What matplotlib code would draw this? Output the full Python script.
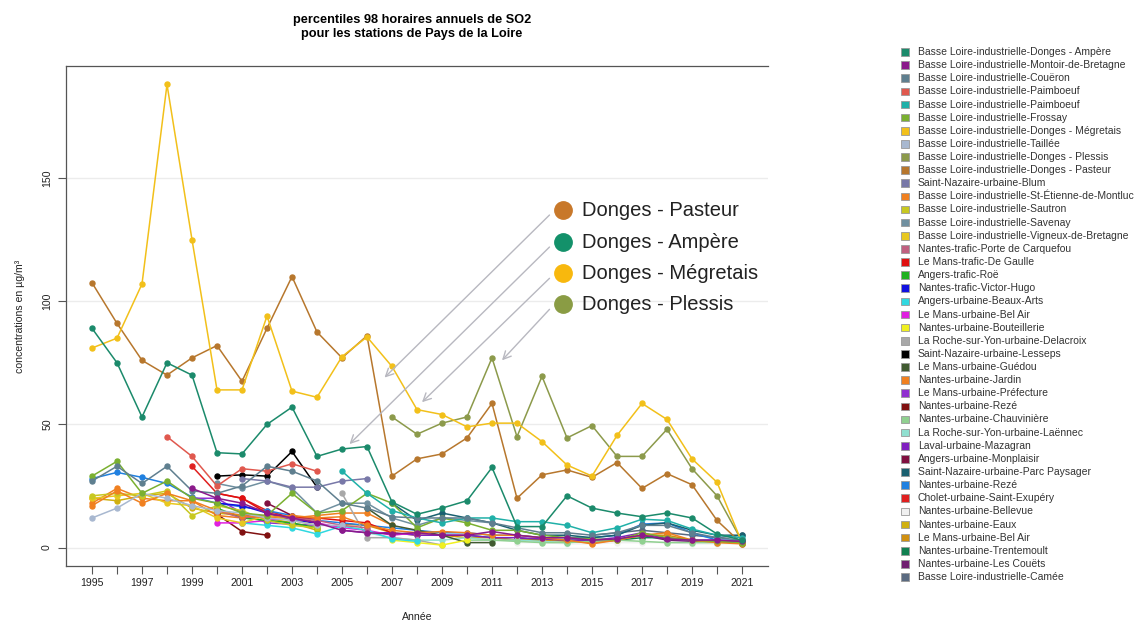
import numpy as np
import matplotlib.pyplot as plt
from matplotlib.patches import Rectangle

plt.rcParams['font.family'] = ['Liberation Sans', 'DejaVu Sans']

years = np.arange(1995, 2022)

# station names (legend order), line colours, first year and yearly values
stations = [
    "Basse Loire-industrielle-Donges - Ampère",
    "Basse Loire-industrielle-Montoir-de-Bretagne",
    "Basse Loire-industrielle-Couëron",
    "Basse Loire-industrielle-Paimboeuf",
    "Basse Loire-industrielle-Paimboeuf",
    "Basse Loire-industrielle-Frossay",
    "Basse Loire-industrielle-Donges - Mégretais",
    "Basse Loire-industrielle-Taillée",
    "Basse Loire-industrielle-Donges - Plessis",
    "Basse Loire-industrielle-Donges - Pasteur",
    "Saint-Nazaire-urbaine-Blum",
    "Basse Loire-industrielle-St-Étienne-de-Montluc",
    "Basse Loire-industrielle-Sautron",
    "Basse Loire-industrielle-Savenay",
    "Basse Loire-industrielle-Vigneux-de-Bretagne",
    "Nantes-trafic-Porte de Carquefou",
    "Le Mans-trafic-De Gaulle",
    "Angers-trafic-Roë",
    "Nantes-trafic-Victor-Hugo",
    "Angers-urbaine-Beaux-Arts",
    "Le Mans-urbaine-Bel Air",
    "Nantes-urbaine-Bouteillerie",
    "La Roche-sur-Yon-urbaine-Delacroix",
    "Saint-Nazaire-urbaine-Lesseps",
    "Le Mans-urbaine-Guédou",
    "Nantes-urbaine-Jardin",
    "Le Mans-urbaine-Préfecture",
    "Nantes-urbaine-Rezé",
    "Nantes-urbaine-Chauvinière",
    "La Roche-sur-Yon-urbaine-Laënnec",
    "Laval-urbaine-Mazagran",
    "Angers-urbaine-Monplaisir",
    "Saint-Nazaire-urbaine-Parc Paysager",
    "Nantes-urbaine-Rezé",
    "Cholet-urbaine-Saint-Exupéry",
    "Nantes-urbaine-Bellevue",
    "Nantes-urbaine-Eaux",
    "Le Mans-urbaine-Bel Air",
    "Nantes-urbaine-Trentemoult",
    "Nantes-urbaine-Les Couëts",
    "Basse Loire-industrielle-Camée",
]

colors = [
    "#1b8a6b", "#8b1a8b", "#5f7f8f", "#e0584e", "#20b0a8", "#7ab030",
    "#f2c01a", "#a8b8d0", "#8c9a4b", "#b7772d", "#7878a8", "#f08020",
    "#c8c820", "#7090a0", "#e8c820", "#c06080", "#e01010", "#20b020",
    "#1010e0", "#30d8e0", "#e020e0", "#f0f020", "#a8a8a8", "#000000",
    "#405a30", "#f08020", "#9030d0", "#801010", "#90d090", "#90e0d0",
    "#8020c0", "#801040", "#1a6070", "#2080e0", "#e02020", "#f0f0f0",
    "#d0b010", "#d09010", "#108050", "#702070", "#5a6a80",
]

start_year = [
    1995, 1999, 1995, 1998, 2005, 1995, 1995, 1995, 2007, 1995,
    2001, 1995, 1995, 2000, 1995, 2000, 2000, 2000, 2000, 2001,
    2000, 2007, 2005, 2000, 2006, 1995, 1999, 2000, 2010, 2006,
    2005, 2002, 2007, 1995, 1999, 2012, 1995, 2005, 2010, 2012, 2015,
]

values = [
    [89, 75, 53, 75, 70, 38.5, 38, 50, 57, 37, 40, 41, 18.5, 13.5, 16, 19, 32.5, 8.5, 8.5, 21, 16, 14, 12.5, 14, 12, 5.5, 3],
    [24, 20, 18, 14, 12, 10, 7, 6, 5.5, 6, 5, 5, 6.5, 5, 4, 4, 3, 3.5, 5, 3.5, 3, 3, 2.5],
    [27, 33, 26, 33, 23, 22, 25, 33, 31, 27, 18, 16, 12.5, 12, 12, 12, 10, 8, 6, 6, 5, 6, 9, 9, 6, 4, 3],
    [45, 37, 25, 32, 31, 34, 31],
    [31, 22, 15, 12, 10, 12, 12, 10.5, 10.5, 9, 6, 8, 11.5, 11, 7.5, 5, 4],
    [29, 35, 22, 27, 20, 18, 14, 13, 22, 14, 15, 22, 18, 8, 12, 10, 7, 7, 5, 4, 3.5, 3, 6, 4, 3, 2.5, 2],
    [81, 85, 107, 188, 125, 64, 64, 94, 63.5, 61, 77.5, 85.5, 73.5, 56, 54, 49, 50.5, 50.5, 43, 33.5, 29, 45.5, 58.5, 52, 36, 26.5, 2],
    [12, 16, 22, 20, 17, 15, 14, 12, 11, 9, 9],
    [53, 46, 50.5, 53, 77, 45, 69.5, 44.5, 49.5, 37, 37, 48, 32, 21, 2.5],
    [107.5, 91, 76, 70, 77, 82, 67.5, 89, 110, 87.5, 77, 86, 29, 36, 38, 44.5, 58.5, 20, 29.5, 31.5, 28.5, 34.5, 24, 30, 25.5, 11, 1.5],
    [28, 27, 24.5, 24.5, 27, 28],
    [17, 23, 18, 22, 19, 15, 13, 12, 13, 12, 12.5, 9, 7, 6, 6.5, 6, 5, 5, 4, 3, 1.5, 3, 5, 6, 3, 2, 1.5],
    [21, 22, 21, 23, 13, 17, 15, 11, 9, 8],
    [26, 24, 27, 24, 14, 18, 18, 12, 9, 12, 11, 10],
    [20, 21, 22, 18, 17, 12, 10, 13, 11, 9],
    [15, 12, 13, 12, 11, 9, 8],
    [22, 20, 14, 12, 12, 11, 10, 6],
    [16, 12, 11, 10, 8],
    [18, 17, 14, 11, 10],
    [10, 9, 8, 5.5, 8.7, 7, 3.5, 2.5],
    [10, 10, 11, 12, 10, 8, 7, 5, 6],
    [3, 2, 1, 3],
    [22, 4, 4, 3, 1],
    [29, 29.5, 29, 39, 24.5],
    [16, 9, 7, 5, 2, 2],
    [18, 24, 20, 19, 19, 13, 12, 13, 12, 13, 14, 14, 9],
    [20, 20, 14, 10, 9.5, 9],
    [13.5, 6.5, 5],
    [3, 3, 2.5, 2, 2, 2.5, 3, 2.5, 2, 2, 2],
    [6, 4, 3, 3, 4, 3, 3, 2.5, 2],
    [7, 6, 6, 5, 5, 5, 4, 4, 3.5, 3, 3, 4, 6, 3.5, 3, 3, 2],
    [18, 13, 10],
    [18, 11, 14, 12, 10, 7, 5, 5, 4, 5, 9, 10, 7, 5, 5],
    [28, 30.5, 28.5, 26, 20.5, 18, 16.5, 15, 13, 11, 10, 9, 8, 7, 6, 6, 5, 5, 4, 4, 4, 5, 9.5, 10, 6, 3, 3],
    [33, 22, 20, 15, 12, 10],
    [2, 2, 1.5, 1.5, 2, 2, 2, 1.5, 1.5, 1.5],
    [20, 19, 21, 22, 16, 14, 13, 12, 10, 7],
    [9.5, 9, 6, 5, 5, 4, 4, 3, 3, 2.5, 2, 3, 5, 5, 3, 2, 2],
    [5, 4, 3, 3, 3, 3, 3, 4, 4, 3, 2, 2],
    [4, 3, 3, 2, 3, 5, 3, 2.5, 2.5, 2],
    [5, 6, 7, 6, 5, 4, 5],
]

# highlighted Donges stations: label, dot colour, arrow tip (year, value)
callouts = ["Donges - Pasteur", "Donges - Ampère", "Donges - Mégretais", "Donges - Plessis"]
callout_colors = ["#c8782a", "#13916a", "#f8b80e", "#8a9c44"]
arrow_tips = [(2006.7, 69), (2005.3, 42), (2008.2, 59), (2011.4, 76)]

fig = plt.figure(figsize=(11.36, 6.23), dpi=100)
ax = fig.add_axes([66/1136, 57/623, (768-66)/1136, (566-66)/623])

for k in range(len(stations) - 1, -1, -1):
    y = np.full(len(years), np.nan)
    i0 = start_year[k] - years[0]
    y[i0:i0 + len(values[k])] = values[k]
    ax.plot(years, y, '-o', color=colors[k], lw=1.1, ms=3.6, zorder=3)

ax.set_xlim(1993.96, 2022.04)
ax.set_ylim(-7.5, 195.5)
ax.set_yticks([0, 50, 100, 150])
ax.set_yticklabels(['0', '50', '100', '150'], rotation=90, va='center')
ax.set_xticks(years)
ax.set_xticklabels([str(y) if y % 2 == 1 else '' for y in years])
ax.tick_params(axis='both', direction='out', length=6, width=0.8, color='#555555',
               labelsize=7.6, labelcolor='#222222')
ax.tick_params(axis='x', pad=3)
ax.tick_params(axis='y', pad=4)
ax.grid(axis='y', color='#ececec', lw=1)
ax.set_axisbelow(True)
ax.spines['right'].set_visible(False)
for s in ['left', 'top', 'bottom']:
    ax.spines[s].set_color('#555555')
    ax.spines[s].set_linewidth(0.9)

ax.set_xlabel('Année', fontsize=7.6, color='#222222', labelpad=17)
ax.set_ylabel('concentrations en µg/m³', fontsize=7.6, color='#222222', labelpad=12)
fig.text(412/1136, 1 - 27/623,
         "percentiles 98 horaires annuels de SO2\npour les stations de Pays de la Loire",
         ha='center', va='center', fontsize=9.2, fontweight='bold', linespacing=1.3)

# callouts with arrows
label_y = [137, 124, 111.3, 98.7]
for lab, c, tip, ly in zip(callouts, callout_colors, arrow_tips, label_y):
    ax.plot([2013.85], [ly], 'o', color=c, ms=12.5, zorder=5, clip_on=False)
    ax.text(2014.6, ly, lab, fontsize=14.5, va='center', ha='left', color='#222222', zorder=5)
    ax.annotate('', xy=tip, xytext=(2013.3, ly - 2),
                arrowprops=dict(arrowstyle='->', color='#b8b8c0', lw=1.0,
                                shrinkA=0, shrinkB=0, mutation_scale=14), zorder=4)

# legend on the right, drawn as a column of squares
for i, (name, c) in enumerate(zip(stations, colors)):
    yc = 1 - (52 + i * 13.125) / 623
    fig.add_artist(Rectangle((901/1136, yc - 3.8/623), 8/1136, 7.6/623,
                             facecolor=c, edgecolor='#999999', lw=0.6,
                             transform=fig.transFigure))
    fig.text(918/1136, yc, name, fontsize=7.5, va='center', ha='left', color='#333333')

fig.savefig('out.png', dpi=100)
